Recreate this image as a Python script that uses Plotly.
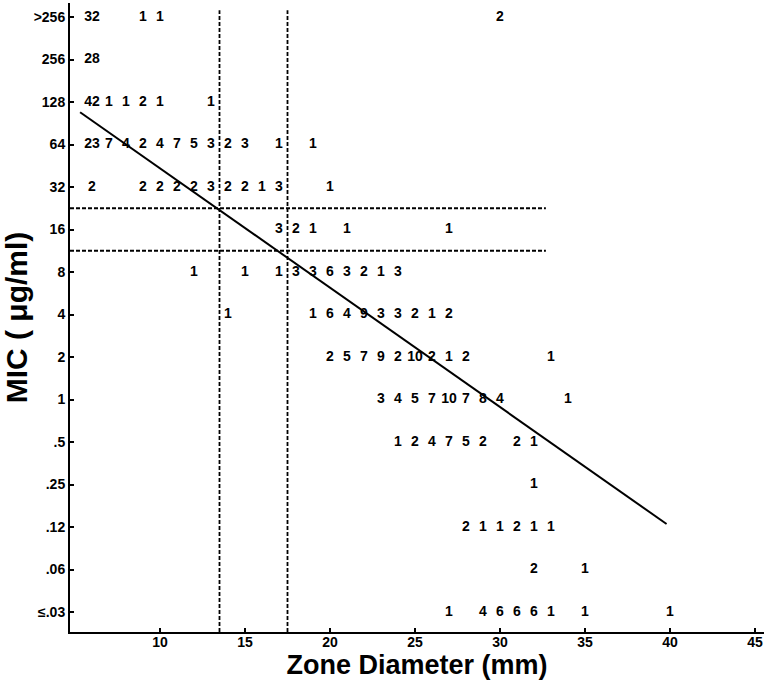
import plotly.graph_objects as go

# MIC categories (bottom to top)
mic_labels = ["≤.03", ".06", ".12", ".25", ".5", "1", "2", "4", "8", "16", "32", "64", "128", "256", ">256"]

# Zone diameters (mm) and isolate counts for each MIC row
zone_gt256 = [6, 9, 10, 30]
count_gt256 = [32, 1, 1, 2]
zone_256 = [6]
count_256 = [28]
zone_128 = [6, 7, 8, 9, 10, 13]
count_128 = [42, 1, 1, 2, 1, 1]
zone_64 = [6, 7, 8, 9, 10, 11, 12, 13, 14, 15, 17, 19]
count_64 = [23, 7, 4, 2, 4, 7, 5, 3, 2, 3, 1, 1]
zone_32 = [6, 9, 10, 11, 12, 13, 14, 15, 16, 17, 20]
count_32 = [2, 2, 2, 2, 2, 3, 2, 2, 1, 3, 1]
zone_16 = [17, 18, 19, 21, 27]
count_16 = [3, 2, 1, 1, 1]
zone_8 = [12, 15, 17, 18, 19, 20, 21, 22, 23, 24]
count_8 = [1, 1, 1, 3, 3, 6, 3, 2, 1, 3]
zone_4 = [14, 19, 20, 21, 22, 23, 24, 25, 26, 27]
count_4 = [1, 1, 6, 4, 9, 3, 3, 2, 1, 2]
zone_2 = [20, 21, 22, 23, 24, 25, 26, 27, 28, 33]
count_2 = [2, 5, 7, 9, 2, 10, 2, 1, 2, 1]
zone_1 = [23, 24, 25, 26, 27, 28, 29, 30, 34]
count_1 = [3, 4, 5, 7, 10, 7, 8, 4, 1]
zone_05 = [24, 25, 26, 27, 28, 29, 31, 32]
count_05 = [1, 2, 4, 7, 5, 2, 2, 1]
zone_025 = [32]
count_025 = [1]
zone_012 = [28, 29, 30, 31, 32, 33]
count_012 = [2, 1, 1, 2, 1, 1]
zone_006 = [32, 35]
count_006 = [2, 1]
zone_003 = [27, 29, 30, 31, 32, 33, 35, 40]
count_003 = [1, 4, 6, 6, 6, 1, 1, 1]

# Interpretive breakpoints (zone mm, MIC category position)
breakpoint_zone = [13.5, 17.5]
breakpoint_mic = [9.5, 8.5]
breakpoint_hline_end = 32.7
breakpoint_vline_top = 14.16

# Regression line endpoints (zone mm, MIC category position)
reg_zone = [5.3, 39.8]
reg_mic = [11.76, 2.07]

rows = [
    (zone_003, count_003), (zone_006, count_006), (zone_012, count_012),
    (zone_025, count_025), (zone_05, count_05), (zone_1, count_1),
    (zone_2, count_2), (zone_4, count_4), (zone_8, count_8),
    (zone_16, count_16), (zone_32, count_32), (zone_64, count_64),
    (zone_128, count_128), (zone_256, count_256), (zone_gt256, count_gt256),
]

FONT = "Liberation Sans, Arial, sans-serif"
fig = go.Figure()

y_min, y_max = -0.4706, 14.33
x_min, x_max = 4.706, 45.53

DASH = dict(color="black", width=1.8, dash="4px,2px")

# Dashed breakpoint lines
for bz in breakpoint_zone:
    fig.add_trace(go.Scatter(x=[bz, bz], y=[y_min, breakpoint_vline_top], mode="lines",
                             line=DASH, hoverinfo="skip", showlegend=False))
for bm in breakpoint_mic:
    fig.add_trace(go.Scatter(x=[x_min, breakpoint_hline_end], y=[bm, bm], mode="lines",
                             line=DASH, hoverinfo="skip", showlegend=False))

# Regression line
fig.add_trace(go.Scatter(x=reg_zone, y=reg_mic, mode="lines",
                         line=dict(color="black", width=2),
                         hoverinfo="skip", showlegend=False))

# Count labels
for idx, (zones, counts) in enumerate(rows):
    fig.add_trace(go.Scatter(
        x=zones, y=[idx] * len(zones), mode="text",
        text=[str(c) for c in counts], textposition="middle center",
        textfont=dict(family=FONT, size=14, color="black", weight="bold"),
        showlegend=False, hoverinfo="skip"))

fig.update_layout(
    width=764, height=680,
    margin=dict(l=70, r=0, t=3, b=48),
    paper_bgcolor="white", plot_bgcolor="white",
    showlegend=False,
)
fig.update_xaxes(
    range=[x_min, x_max], tickvals=[10, 15, 20, 25, 30, 35, 40, 45],
    showgrid=False, zeroline=False, showline=True, linecolor="black", linewidth=2,
    ticks="inside", ticklen=4, tickwidth=2, tickcolor="black",
    ticklabelstandoff=-4,
    tickfont=dict(family=FONT, size=14, color="black", weight="bold"),
    title=dict(text="Zone Diameter (mm)", standoff=6,
               font=dict(family=FONT, size=27, color="black", weight="bold")),
    automargin=False,
)
fig.update_yaxes(
    range=[y_min, y_max], tickvals=list(range(len(mic_labels))), ticktext=mic_labels,
    showgrid=False, zeroline=False, showline=True, linecolor="black", linewidth=2,
    ticks="inside", ticklen=4, tickwidth=2, tickcolor="black",
    tickfont=dict(family=FONT, size=14, color="black", weight="bold"),
    title=dict(text="MIC ( μg/ml)", standoff=2,
               font=dict(family=FONT, size=30, color="black", weight="bold")),
    automargin=False,
)

fig.write_html("out.html", config={"displayModeBar": False},
               post_script="document.body.style.margin='0';")
